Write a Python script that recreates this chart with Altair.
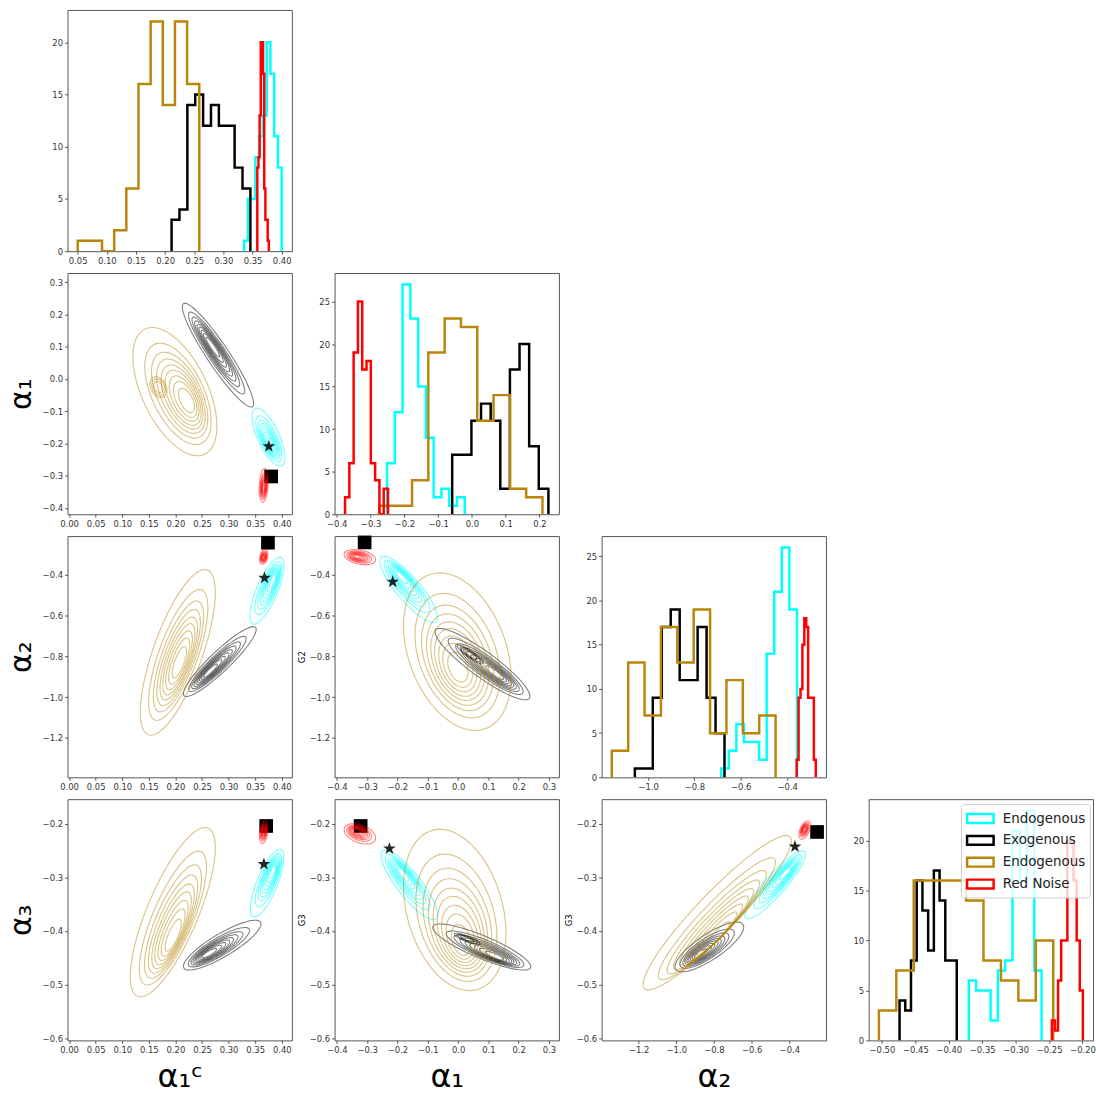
import math
import altair as alt
import numpy as np
import pandas as pd

PW, PH = 226, 243

SERIES = ["endo_cyan", "exo_black", "endo_gold", "red_noise"]
HIST_COLORS = ["#00FFFF", "#000000", "#B8860B", "#FF0000"]
CONTOUR_OPACITY = [0.55, 0.5, 0.5, 0.5]

# ---- diagonal histograms: (first edge, last edge) of 10 equal bins, and counts
# order of series: cyan endogenous, black exogenous, gold endogenous, red noise
HIST_RANGE_A1C = [(0.3355, 0.4000), (0.2111, 0.3463), (0.0500, 0.2586), (0.3582, 0.3780)]
HIST_COUNT_A1C = [[1, 5, 5, 9, 11, 13, 20, 17, 11, 8],
                  [3, 4, 14, 15, 12, 14, 12, 12, 8, 6],
                  [1, 1, 0, 2, 6, 16, 22, 14, 22, 16],
                  [8, 9, 13, 20, 20, 17, 6, 3, 3, 1]]
HIST_RANGE_A1 = [(-0.2512, -0.0212), (-0.0584, 0.2264), (-0.2737, 0.2088), (-0.3755, -0.2483)]
HIST_COUNT_A1 = [[6, 12, 27, 23, 15, 9, 2, 3, 1, 2],
                 [7, 7, 11, 13, 11, 3, 17, 20, 8, 3],
                 [1, 1, 4, 19, 23, 22, 11, 14, 3, 2],
                 [2, 6, 19, 25, 17, 18, 6, 4, 0, 3]]
HIST_RANGE_A2 = [(-0.6843, -0.3573), (-1.0569, -0.6701), (-1.1564, -0.4497), (-0.3587, -0.2763)]
HIST_COUNT_A2 = [[1, 3, 6, 4, 4, 2, 14, 21, 26, 19],
                 [1, 1, 9, 17, 19, 11, 11, 17, 9, 5],
                 [3, 13, 7, 17, 13, 19, 5, 11, 5, 7],
                 [2, 9, 10, 15, 18, 17, 9, 9, 9, 2]]
HIST_RANGE_A3 = [(-0.3701, -0.2612), (-0.4736, -0.3881), (-0.5045, -0.2438), (-0.2458, -0.1995)]
HIST_COUNT_A3 = [[6, 5, 5, 2, 7, 8, 21, 16, 23, 7],
                 [4, 3, 8, 16, 13, 9, 17, 14, 8, 8],
                 [3, 7, 16, 16, 16, 14, 8, 6, 4, 10],
                 [2, 1, 6, 10, 10, 20, 20, 16, 10, 5]]

# ---- KDE contour sets, as nested tilted ovals:
# (series, centre x, centre y, half-width x, half-height y, tilt r, peak x, peak y, first level)
LEVEL_SCALES = [1.0, 0.79, 0.67, 0.58, 0.50, 0.43, 0.355, 0.28, 0.19]
BLOBS_A1_A1C = [
    ("endo_cyan", 0.375, -0.180, 0.031, 0.090, -0.70, 0.378, -0.205, 0),
    ("exo_black", 0.280, 0.074, 0.067, 0.161, -0.93, 0.268, 0.105, 0),
    ("endo_gold", 0.199, -0.039, 0.079, 0.199, -0.54, 0.226, -0.073, 0),
    ("endo_gold", 0.168, -0.025, 0.045, 0.090, -0.30, 0.168, -0.025, 6),
    ("red_noise", 0.366, -0.330, 0.0085, 0.052, 0.20, 0.366, -0.340, 0),
]
BLOBS_A2_A1C = [
    ("endo_cyan", 0.372, -0.478, 0.032, 0.164, 0.75, 0.385, -0.420, 0),
    ("exo_black", 0.2835, -0.8255, 0.0685, 0.1715, 0.92, 0.262, -0.880, 0),
    ("endo_gold", 0.2045, -0.7805, 0.0705, 0.4065, 0.72, 0.208, -0.840, 0),
    ("red_noise", 0.366, -0.312, 0.008, 0.036, 0.30, 0.366, -0.315, 0),
]
BLOBS_A3_A1C = [
    ("endo_cyan", 0.3725, -0.311, 0.0315, 0.063, 0.75, 0.385, -0.285, 0),
    ("exo_black", 0.288, -0.4265, 0.073, 0.0465, 0.85, 0.258, -0.445, 0),
    ("endo_gold", 0.195, -0.365, 0.080, 0.158, 0.76, 0.196, -0.418, 0),
    ("red_noise", 0.366, -0.216, 0.008, 0.021, 0.30, 0.366, -0.215, 0),
]
BLOBS_A2_A1 = [
    ("endo_cyan", -0.163, -0.4715, 0.095, 0.1625, -0.85, -0.190, -0.400, 0),
    ("exo_black", 0.0805, -0.838, 0.1565, 0.175, -0.90, 0.130, -0.890, 0),
    ("exo_black", 0.040, -0.790, 0.120, 0.130, -0.90, 0.040, -0.790, 6),
    ("endo_gold", -0.0025, -0.7765, 0.1775, 0.3865, -0.33, 0.000, -0.870, 0),
    ("red_noise", -0.324, -0.313, 0.052, 0.037, -0.35, -0.335, -0.310, 0),
]
BLOBS_A3_A1 = [
    ("endo_cyan", -0.161, -0.314, 0.093, 0.065, -0.85, -0.185, -0.290, 0),
    ("exo_black", 0.078, -0.430, 0.162, 0.043, -0.85, 0.130, -0.450, 0),
    ("exo_black", 0.030, -0.415, 0.120, 0.030, -0.85, 0.030, -0.415, 6),
    ("endo_gold", -0.011, -0.361, 0.169, 0.1505, -0.29, 0.015, -0.430, 0),
    ("red_noise", -0.324, -0.219, 0.052, 0.019, -0.40, -0.335, -0.213, 0),
]
BLOBS_A3_A2 = [
    ("endo_cyan", -0.4745, -0.314, 0.1605, 0.0634, 0.90, -0.410, -0.288, 0),
    ("exo_black", -0.8245, -0.430, 0.1825, 0.0464, 0.80, -0.880, -0.445, 0),
    ("endo_gold", -0.783, -0.366, 0.394, 0.144, 0.93, -0.790, -0.420, 0),
    ("red_noise", -0.3185, -0.212, 0.0305, 0.017, 0.50, -0.320, -0.210, 0),
]

# ---- markers (star and square) per panel
STAR_A1_A1C = (0.3757, -0.2088)
STAR_A2_A1C = (0.3676, -0.4146)
STAR_A3_A1C = (0.3664, -0.2754)
STAR_A2_A1 = (-0.2157, -0.4340)
STAR_A3_A1 = (-0.2266, -0.2464)
STAR_A3_A2 = (-0.3700, -0.2427)
SQUARE_A1_A1C = (0.3800, -0.3023)
SQUARE_A2_A1C = (0.3740, -0.2423)
SQUARE_A3_A1C = (0.3707, -0.2043)
SQUARE_A2_A1 = (-0.3084, -0.2407)
SQUARE_A3_A1 = (-0.3215, -0.2043)
SQUARE_A3_A2 = (-0.2526, -0.2155)

# ---- tick labels
TICKS_A1C = [0.0, 0.05, 0.10, 0.15, 0.20, 0.25, 0.30, 0.35, 0.40]
TICKS_A1C_DIAG = [0.05, 0.10, 0.15, 0.20, 0.25, 0.30, 0.35, 0.40]
TICKS_A1 = [-0.4, -0.3, -0.2, -0.1, 0.0, 0.1, 0.2, 0.3]
TICKS_A1_DIAG = [-0.4, -0.3, -0.2, -0.1, 0.0, 0.1, 0.2]
TICKS_A2 = [-1.2, -1.0, -0.8, -0.6, -0.4]
TICKS_A2_DIAG = [-1.0, -0.8, -0.6, -0.4]
TICKS_A3 = [-0.6, -0.5, -0.4, -0.3, -0.2]
TICKS_A3_DIAG = [-0.50, -0.45, -0.40, -0.35, -0.30, -0.25, -0.20]
TICKS_COUNT_20 = [0, 5, 10, 15, 20]
TICKS_COUNT_25 = [0, 5, 10, 15, 20, 25]


def star_path():
    pts = []
    for i in range(10):
        ang = -math.pi / 2 + i * math.pi / 5
        rad = 1.0 if i % 2 == 0 else 0.4
        pts.append(f"{rad * math.cos(ang):.3f},{rad * math.sin(ang):.3f}")
    return "M" + "L".join(pts) + "Z"


STAR_PATH = star_path()
LEGEND_SYMBOL = "M-1.5,-0.5L1.5,-0.5L1.5,0.5L-1.5,0.5Z"


def hist_frame(ranges, counts):
    rows = []
    for s, (lo, hi), cnt in zip(SERIES, ranges, counts):
        edges = np.linspace(lo, hi, len(cnt) + 1)
        pts = [(edges[0], 0)] + [(edges[i], c) for i, c in enumerate(cnt)] + [(edges[-1], 0)]
        for j, (x, y) in enumerate(pts):
            rows.append({"series": s, "x": float(x), "y": float(y), "o": j})
    return pd.DataFrame(rows)


def contour_frame(blobs, n=72):
    rows = []
    t = np.linspace(0, 2 * np.pi, n + 1)
    for b_i, (s, cx, cy, sx, sy, r, mx, my, k0) in enumerate(blobs):
        q = math.sqrt(1 - r * r)
        for k in range(k0, len(LEVEL_SCALES)):
            f = LEVEL_SCALES[k]
            ccx = mx + f * (cx - mx)
            ccy = my + f * (cy - my)
            xs = ccx + f * sx * np.cos(t)
            ys = ccy + f * sy * (r * np.cos(t) + q * np.sin(t))
            for j, (x, y) in enumerate(zip(xs, ys)):
                rows.append({"series": s, "ring": f"{b_i}-{k}", "x": float(x), "y": float(y), "o": j})
    return pd.DataFrame(rows)


def axis(ticks, fmt, title=None, tsize=8.5, tpad=2):
    if title is None:
        return alt.Axis(values=ticks, format=fmt, title=None, labelFlush=False, labelOverlap=False)
    return alt.Axis(values=ticks, format=fmt, title=title, titleFontSize=tsize,
                    titlePadding=tpad, labelFlush=False, labelOverlap=False)


def enc(field, chan, domain, ax):
    sc = alt.Scale(domain=domain, nice=False, zero=False)
    if chan == "x":
        return alt.X(field + ":Q", scale=sc, axis=ax)
    return alt.Y(field + ":Q", scale=sc, axis=ax)


LEGEND = alt.Legend(
    title=None, orient="none", legendX=93, legendY=5,
    symbolType=LEGEND_SYMBOL, symbolSize=317, symbolStrokeWidth=2.5,
    symbolFillColor="transparent", symbolOffset=5,
    labelFontSize=13.5, labelFont="DejaVu Sans", labelColor="#222222", labelOffset=12,
    fillColor="rgba(255,255,255,0.8)", strokeColor="#cccccc", cornerRadius=3,
    padding=4, rowPadding=2,
    labelExpr="datum.value == 'exo_black' ? 'Exogenous' : datum.value == 'red_noise' ? 'Red Noise' : 'Endogenous'",
)


def offdiag(x, y, blobs, star, square):
    cdf = contour_frame(blobs)
    layers = []
    sq = pd.DataFrame({"x": [square[0]], "y": [square[1]]})
    layers.append(alt.Chart(sq).mark_square(size=190, color="black", opacity=1).encode(x=x, y=y))
    for s, col, op in zip(SERIES, HIST_COLORS, CONTOUR_OPACITY):
        sub = cdf[cdf.series == s]
        layers.append(
            alt.Chart(sub).mark_line(color=col, opacity=op, strokeWidth=1.1, clip=True)
            .encode(x=x, y=y, detail="ring:N", order="o:Q")
        )
    st = pd.DataFrame({"x": [star[0]], "y": [star[1]]})
    layers.append(alt.Chart(st).mark_point(shape=STAR_PATH, size=180, filled=True,
                                           color="black", opacity=0.85).encode(x=x, y=y))
    return alt.layer(*layers).properties(width=PW, height=PH)


def diag(x, y, ranges, counts, legend=False):
    hdf = hist_frame(ranges, counts)
    layers = []
    for s, col in zip(SERIES, HIST_COLORS):
        sub = hdf[hdf.series == s]
        m = alt.Chart(sub).mark_line(interpolate="step-after", strokeWidth=2.5,
                                     strokeJoin="miter", clip=True)
        if legend:
            c = alt.Color("series:N", scale=alt.Scale(domain=SERIES, range=HIST_COLORS), legend=LEGEND)
            m = m.encode(x=x, y=y, order="o:Q", color=c)
        else:
            m = m.encode(x=x, y=y, order="o:Q", color=alt.value(col))
        layers.append(m)
    return alt.layer(*layers).properties(width=PW, height=PH)


def blank():
    return (alt.Chart(pd.DataFrame({"x": [0.0]}))
            .mark_point(opacity=0)
            .encode(x=alt.X("x:Q", axis=None), y=alt.Y("x:Q", axis=None))
            .properties(width=PW, height=PH, view=alt.ViewBackground(stroke="transparent")))


BIG = 30
# x encodings
X_A1C = enc("x", "x", [-0.003, 0.419], axis(TICKS_A1C, ".2f"))
X_A1C_T = enc("x", "x", [-0.003, 0.419], axis(TICKS_A1C, ".2f", "α₁ᶜ", 32, 8))
X_A1 = enc("x", "x", [-0.4076, 0.3327], axis(TICKS_A1, ".1f"))
X_A1_T = enc("x", "x", [-0.4076, 0.3327], axis(TICKS_A1, ".1f", "α₁", 32, 8))
X_A2_T = enc("x", "x", [-1.3965, -0.2053], axis(TICKS_A2, ".1f", "α₂", 32, 8))
# y encodings
Y_A1_T = enc("y", "y", [-0.4195, 0.3288], axis(TICKS_A1, ".1f", "α₁", BIG, 6))
Y_A2_T = enc("y", "y", [-1.3935, -0.2098], axis(TICKS_A2, ".1f", "α₂", BIG, 6))
Y_A2_G = enc("y", "y", [-1.3935, -0.2098], axis(TICKS_A2, ".1f", "G2", 8.5, 3))
Y_A3_T = enc("y", "y", [-0.6043, -0.1543], axis(TICKS_A3, ".1f", "α₃", BIG, 6))
Y_A3_G = enc("y", "y", [-0.6043, -0.1543], axis(TICKS_A3, ".1f", "G3", 8.5, 3))

p00 = diag(enc("x", "x", [0.0325, 0.4175], axis(TICKS_A1C_DIAG, ".2f")),
           enc("y", "y", [0, 23.1], axis(TICKS_COUNT_20, "d")),
           HIST_RANGE_A1C, HIST_COUNT_A1C)
p10 = offdiag(X_A1C, Y_A1_T, BLOBS_A1_A1C, STAR_A1_A1C, SQUARE_A1_A1C)
p11 = diag(enc("x", "x", [-0.4065, 0.2575], axis(TICKS_A1_DIAG, ".1f")),
           enc("y", "y", [0, 28.35], axis(TICKS_COUNT_25, "d")),
           HIST_RANGE_A1, HIST_COUNT_A1)
p20 = offdiag(X_A1C, Y_A2_T, BLOBS_A2_A1C, STAR_A2_A1C, SQUARE_A2_A1C)
p21 = offdiag(X_A1, Y_A2_G, BLOBS_A2_A1, STAR_A2_A1, SQUARE_A2_A1)
p22 = diag(enc("x", "x", [-1.2004, -0.2323], axis(TICKS_A2_DIAG, ".1f")),
           enc("y", "y", [0, 27.3], axis(TICKS_COUNT_25, "d")),
           HIST_RANGE_A2, HIST_COUNT_A2)
p30 = offdiag(X_A1C_T, Y_A3_T, BLOBS_A3_A1C, STAR_A3_A1C, SQUARE_A3_A1C)
p31 = offdiag(X_A1_T, Y_A3_G, BLOBS_A3_A1, STAR_A3_A1, SQUARE_A3_A1)
p32 = offdiag(X_A2_T, Y_A3_G, BLOBS_A3_A2, STAR_A3_A2, SQUARE_A3_A2)
p33 = diag(enc("x", "x", [-0.5198, -0.1843], axis(TICKS_A3_DIAG, ".2f")),
           enc("y", "y", [0, 24.15], axis(TICKS_COUNT_20, "d")),
           HIST_RANGE_A3, HIST_COUNT_A3, legend=True)

cells = [p00, blank(), blank(), blank(),
         p10, p11, blank(), blank(),
         p20, p21, p22, blank(),
         p30, p31, p32, p33]

chart = (
    alt.concat(*cells, columns=4, spacing={"row": 22, "column": 43}, bounds="flush")
    .resolve_scale(color="independent").resolve_legend(color="independent")
    .properties(padding={"left": 5, "top": 5, "right": 0, "bottom": 0}, background="white")
    .configure_axis(labelFont="DejaVu Sans", labelFontSize=8.5, labelColor="#333333",
                    tickColor="#333333", tickSize=3, tickWidth=0.8, domain=False, grid=False,
                    labelPadding=2, titleFont="DejaVu Sans", titleFontWeight="normal",
                    titleColor="black")
    .configure_view(stroke="#555555", strokeWidth=1)
)

chart.save("out.html", embed_options={"renderer": "svg", "actions": False})
